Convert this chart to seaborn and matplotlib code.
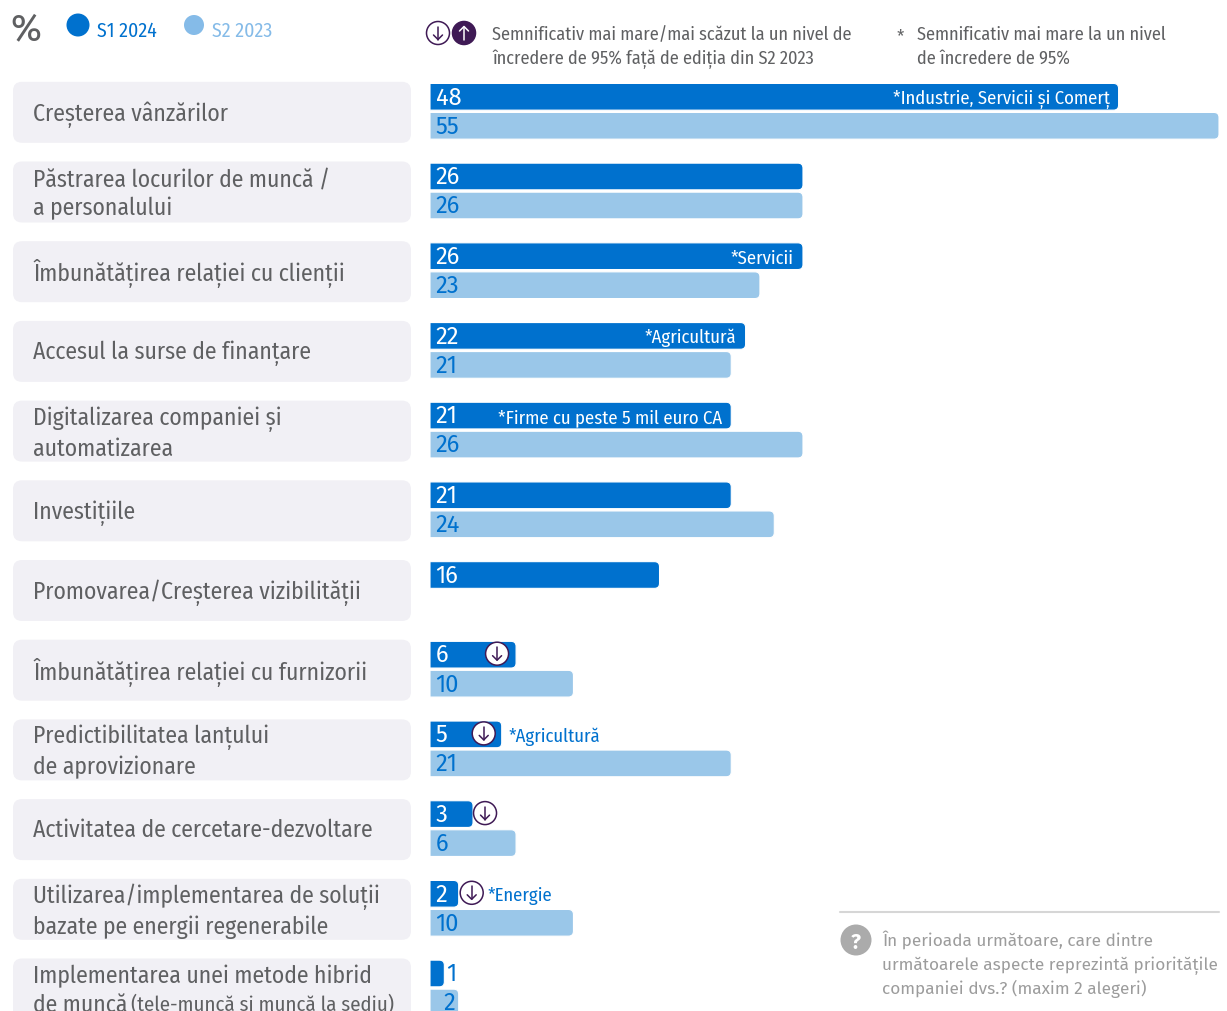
import numpy as np
import pandas as pd
import seaborn as sns
import matplotlib.pyplot as plt
from matplotlib.patches import FancyBboxPatch, Ellipse, PathPatch
from matplotlib.path import Path
from matplotlib.lines import Line2D
from matplotlib.transforms import Affine2D

# Chart data
aspects = [
    "Creșterea vânzărilor",
    "Păstrarea locurilor de muncă /\na personalului",
    "Îmbunătățirea relației cu clienții",
    "Accesul la surse de finanțare",
    "Digitalizarea companiei și\nautomatizarea",
    "Investițiile",
    "Promovarea/Creșterea vizibilității",
    "Îmbunătățirea relației cu furnizorii",
    "Predictibilitatea lanțului\nde aprovizionare",
    "Activitatea de cercetare-dezvoltare",
    "Utilizarea/implementarea de soluții\nbazate pe energii regenerabile",
    "Implementarea unei metode hibrid\nde muncă",
]
s1_2024 = [48, 26, 26, 22, 21, 21, 16, 6, 5, 3, 2, 1]
s2_2023 = [55, 26, 23, 21, 26, 24, np.nan, 10, 21, 6, 10, 2]
waves = ["S1 2024", "S2 2023"]

inside_notes = {0: "*Industrie, Servicii și Comerț", 2: "*Servicii", 3: "*Agricultură",
                4: "*Firme cu peste 5 mil euro CA"}
outside_notes = {8: ("*Agricultură", 7), 10: ("*Energie", 29)}
down_marks = {7: -19, 8: -18, 9: 12, 10: 13}

DARK = "#0071CE"
LIGHT = "#9AC7E9"
GREY = "#5F6062"
PURPLE = "#3F1A55"
BOX = "#F1F0F5"

W, H = 1227, 1012
ROW_TOP = 112.3
ROW_STEP = 79.7
BAR_LEFT, BAR_RIGHT = 430, 1219
PX_PER_UNIT = (BAR_RIGHT - BAR_LEFT) / 55

COND = ["Fira Sans Condensed", "Roboto", "DejaVu Sans"]
PLAIN = ["Fira Sans", "Noto Sans", "DejaVu Sans"]

sns.set_theme(style="white")
plt.rcParams["font.family"] = COND

df = pd.DataFrame({
    "aspect": aspects * 2,
    "wave": [waves[0]] * len(aspects) + [waves[1]] * len(aspects),
    "value": s1_2024 + s2_2023,
})

fig = plt.figure(figsize=(W / 100, H / 100), dpi=100)
ax = fig.add_axes([BAR_LEFT / W, 0, (BAR_RIGHT - BAR_LEFT) / W, 1])
ax.patch.set_alpha(0)

sns.barplot(data=df, y="aspect", x="value", hue="wave", order=aspects, hue_order=waves,
            palette=[DARK, LIGHT], orient="h", width=0.728, gap=0.08, saturation=1,
            legend=False, ax=ax)

ax.set_xlim(0, 55)
ax.set_ylim((H - ROW_TOP) / ROW_STEP, -ROW_TOP / ROW_STEP)
ax.set_xlabel("")
ax.set_ylabel("")
ax.set_xticks([])
sns.despine(ax=ax, left=True, bottom=True)

# y tick labels sit inside the grey boxes, left aligned
ax.tick_params(axis="y", length=0, pad=(BAR_LEFT - 33) * 0.72)
for lab in ax.get_yticklabels():
    lab.set_ha("left")
    lab.set_color(GREY)
    lab.set_fontsize(17)
    lab.set_linespacing(1.3)
    nudge = 3 if "\n" in lab.get_text() else 1.5
    lab.set_transform(lab.get_transform() + Affine2D().translate(0, nudge))

# seaborn bars have square corners, swap them for round-ended ones
rx, ry = 5 / PX_PER_UNIT, 5 / ROW_STEP
for p in list(ax.patches):
    x, y, w, h = p.get_x(), p.get_y(), p.get_width(), p.get_height()
    if not np.isfinite(w):
        p.remove()
        continue
    verts = [(x, y), (x + w - rx, y), (x + w, y), (x + w, y + ry), (x + w, y + h - ry),
             (x + w, y + h), (x + w - rx, y + h), (x, y + h), (x, y)]
    codes = [Path.MOVETO, Path.LINETO, Path.CURVE3, Path.CURVE3, Path.LINETO,
             Path.CURVE3, Path.CURVE3, Path.LINETO, Path.CLOSEPOLY]
    ax.add_patch(PathPatch(Path(verts, codes), facecolor=p.get_facecolor(), edgecolor="white",
                           linewidth=0.8, clip_on=False))
    p.remove()

OFFSET = 0.182  # row units from the row centre to a bar centre

# value labels
for i, (a, b) in enumerate(zip(s1_2024, s2_2023)):
    if a == 1:
        ax.annotate(str(a), (a, i - OFFSET), xytext=(1, 1.7), textcoords="offset points",
                    color=DARK, fontsize=17, va="center_baseline", family=PLAIN)
    else:
        ax.annotate(str(a), (0, i - OFFSET), xytext=(4, 1.7), textcoords="offset points",
                    color="white", fontsize=17, va="center_baseline", family=PLAIN)
    if not np.isnan(b):
        dx = 9.5 if b == 2 else 4
        ax.annotate(str(int(b)), (0, i + OFFSET), xytext=(dx, 1.7), textcoords="offset points",
                    color=DARK, fontsize=17, va="center_baseline", family=PLAIN)

# notes on the bars
for i, txt in inside_notes.items():
    ax.annotate(txt, (s1_2024[i], i - OFFSET), xytext=(-6.5, 0.5), textcoords="offset points",
                color="white", fontsize=13.4, ha="right", va="center_baseline")
for i, (txt, off) in outside_notes.items():
    ax.annotate(txt, (s1_2024[i], i - OFFSET), xytext=(off * 0.72, 0.5), textcoords="offset points",
                color=DARK, fontsize=13.4, ha="left", va="center_baseline")

# the small part of the last label
fig.text(131 / W, 1 - 1002 / H, "(tele-muncă și muncă la sediu)", color=GREY, fontsize=15,
         va="center_baseline")

# everything below is placed in picture pixels
PX = Affine2D().scale(1, -1).translate(0, H)


def text_px(x, y, s, **kw):
    fig.text(x / W, 1 - y / H, s, va="center_baseline", **kw)


def arrow_icon(x, y, down=True, r=11.5):
    col = PURPLE if down else "white"
    fig.add_artist(Ellipse((x, y), 2 * r, 2 * r, transform=PX, linewidth=1.1, edgecolor=PURPLE,
                           facecolor="white" if down else PURPLE, zorder=3))
    sign = 1 if down else -1
    tip = y + 6.5 * sign
    for xs, ys in [([x, x], [y - 6.5 * sign, tip]),
                   ([x - 4.5, x, x + 4.5], [tip - 4.5 * sign, tip, tip - 4.5 * sign])]:
        fig.add_artist(Line2D(xs, ys, transform=PX, color=col, linewidth=1.1, zorder=4))


for i in range(len(aspects)):
    cy = ROW_TOP + ROW_STEP * i
    fig.add_artist(FancyBboxPatch((22, cy - 20.5), 380, 43, boxstyle="round,pad=9,rounding_size=9",
                                  transform=PX, facecolor=BOX, edgecolor="none", zorder=-1))

for i, off in down_marks.items():
    cy = ROW_TOP + ROW_STEP * (i - OFFSET)
    arrow_icon(BAR_LEFT + s1_2024[i] * PX_PER_UNIT + off, cy - 1)

# header
text_px(10, 26, "%", color=GREY, fontsize=27, family=PLAIN)
fig.add_artist(Ellipse((78, 26), 23, 23, transform=PX, facecolor=DARK, edgecolor="none"))
fig.add_artist(Ellipse((194, 26), 20, 20, transform=PX, facecolor="#85BBE8", edgecolor="none"))
text_px(97, 29, waves[0], color=DARK, fontsize=14.3)
text_px(212, 29, waves[1], color="#85BBE8", fontsize=14.3)

arrow_icon(438, 34)
arrow_icon(464, 34, down=False)
text_px(492, 33, "Semnificativ mai mare/mai scăzut la un nivel de", color=GREY, fontsize=13.1)
text_px(492, 57, "încredere de 95% față de ediția din S2 2023", color=GREY, fontsize=13.1)
text_px(897, 35, "*", color=GREY, fontsize=13)
text_px(917, 33, "Semnificativ mai mare la un nivel", color=GREY, fontsize=13.1)
text_px(917, 57, "de încredere de 95%", color=GREY, fontsize=13.1)

# question note
fig.add_artist(Line2D([840, 1219], [912.5, 912.5], transform=PX, color="#D6D6D6", linewidth=1.5))
fig.add_artist(Ellipse((856, 941), 31, 31, transform=PX, facecolor="#ABABAB", edgecolor="none"))
text_px(856, 941, "?", color="white", fontsize=15, fontweight="bold", ha="center", family=PLAIN)
for y, line in zip([946, 970, 994], ["În perioada următoare, care dintre",
                                     "următoarele aspecte reprezintă prioritățile",
                                     "companiei dvs.? (maxim 2 alegeri)"]):
    fig.text(882 / W, 1 - y / H, line, color="#9C9C9C", fontsize=12.4, family=PLAIN, va="baseline")

fig.savefig("out.png", dpi=100)
